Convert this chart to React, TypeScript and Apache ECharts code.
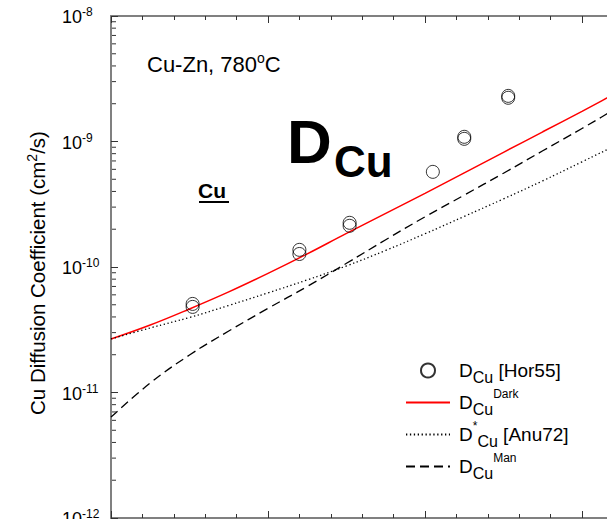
import React, { useEffect, useRef } from "react";
import * as echarts from "echarts";

const FONT = '"Liberation Sans", Arial, Helvetica, sans-serif';

// Zn fraction nodes for model curves
const xNodes = [0, 0.025, 0.05, 0.075, 0.1, 0.125, 0.15, 0.175, 0.2, 0.225, 0.25, 0.275, 0.3, 0.325, 0.35];
// D_Cu^Dark (red)
const dDark = [2.67e-11, 3.45e-11, 4.63e-11, 6.33e-11, 8.89e-11, 1.272e-10, 1.853e-10, 2.675e-10, 3.862e-10, 5.63e-10, 8.2e-10, 1.195e-9, 1.74e-9, 2.56e-9, 3.8e-9];
// D*_Cu [Anu72] (dotted)
const dAnu72 = [2.67e-11, 3.27e-11, 3.96e-11, 4.94e-11, 6.22e-11, 7.89e-11, 1.02e-10, 1.356e-10, 1.84e-10, 2.53e-10, 3.49e-10, 4.86e-10, 6.89e-10, 9.76e-10, 1.38e-9];
// D_Cu^Man (dashed)
const dMan = [6.37e-12, 1.19e-11, 1.99e-11, 3.09e-11, 4.68e-11, 7.0e-11, 1.07e-10, 1.65e-10, 2.51e-10, 3.74e-10, 5.59e-10, 8.43e-10, 1.27e-9, 1.94e-9, 2.97e-9];
// D_Cu [Hor55] measurements
const horX = [0.052, 0.052, 0.12, 0.12, 0.152, 0.152, 0.205, 0.225, 0.225, 0.253, 0.253];
const horD = [5.08e-11, 4.81e-11, 1.37e-10, 1.27e-10, 2.25e-10, 2.13e-10, 5.73e-10, 1.09e-9, 1.05e-9, 2.31e-9, 2.23e-9];

const seriesNames = ["Hor55", "Dark", "Anu72", "Man"];
const legendLabels: Record<string, string> = {
  Hor55: "{d|D}{sub|Cu}{t| [Hor55]}",
  Dark: "{d|D}{sub|Cu}{sup|Dark}",
  Anu72: "{d|D}{sup|*}{sub|Cu}{t| [Anu72]}",
  Man: "{d|D}{sub|Cu}{sup|Man}",
};

// minor log ticks (2..9 x decade)
const minorTickVals: number[] = [];
for (let e = -12; e < -8; e++) {
  for (let m = 2; m <= 9; m++) minorTickVals.push(m * Math.pow(10, e));
}

const axisCommon = {
  axisLine: { show: true, onZero: false, lineStyle: { color: "#808080", width: 2 } },
  axisTick: { show: true, inside: true, length: 7, lineStyle: { color: "#333", width: 1 } },
  splitLine: { show: false },
};

const hiddenMarker = { color: "rgba(0,0,0,0)", opacity: 0, borderWidth: 0 };

export default function App() {
  const ref = useRef<HTMLDivElement>(null);
  useEffect(() => {
    if (!ref.current) return;
    const chart = echarts.init(ref.current, undefined, { renderer: "svg" });
    const xAxisBase = {
      type: "value",
      min: 0,
      max: 0.4,
      interval: 0.1,
      ...axisCommon,
      minorTick: { show: true, splitNumber: 5, length: 4, lineStyle: { color: "#333", width: 1 } },
      axisLabel: { show: false },
    };
    const option: any = {
      animation: false,
      backgroundColor: "#fff",
      grid: { left: 111, top: 16, width: 628, height: 502, outerBoundsMode: "none", containLabel: false },
      xAxis: [
        { ...xAxisBase, position: "bottom" },
        { ...xAxisBase, position: "top" },
      ],
      yAxis: [
        {
          type: "log",
          logBase: 10,
          min: 1e-12,
          max: 1e-8,
          ...axisCommon,
          axisLabel: {
            show: true,
            align: "left",
            margin: 49,
            color: "#000",
            fontFamily: FONT,
            formatter: (v: number) => `{b|10}{s|${Math.round(Math.log10(v))}}`,
            rich: {
              b: { fontSize: 18, lineHeight: 20, verticalAlign: "bottom", fontFamily: FONT, color: "#000" },
              s: { fontSize: 12, lineHeight: 12, verticalAlign: "top", fontFamily: FONT, color: "#000" },
            },
          },
          name: "{n|Cu Diffusion Coefficient (cm}{sup|2}{n|/s)}",
          nameLocation: "middle",
          nameGap: 62,
          nameTextStyle: {
            fontFamily: FONT,
            color: "#000",
            padding: [0, 12, 0, 0],
            rich: {
              n: { fontSize: 20.5, lineHeight: 24, verticalAlign: "middle", fontFamily: FONT, color: "#000" },
              sup: { fontSize: 14, lineHeight: 14, verticalAlign: "top", fontFamily: FONT, color: "#000" },
            },
          },
        },
      ],
      legend: {
        data: seriesNames,
        orient: "vertical",
        left: 400,
        top: 356,
        itemWidth: 44,
        itemHeight: 14,
        itemGap: 2,
        selectedMode: false,
        formatter: (name: string) => legendLabels[name] || name,
        textStyle: {
          color: "#000",
          fontFamily: FONT,
          fontSize: 19,
          rich: {
            d: { fontSize: 19, lineHeight: 30, verticalAlign: "middle", padding: [0, 0, 0, 4], fontFamily: FONT, color: "#000" },
            t: { fontSize: 19, lineHeight: 30, verticalAlign: "middle", fontFamily: FONT, color: "#000" },
            sub: { fontSize: 16, lineHeight: 15, verticalAlign: "bottom", fontFamily: FONT, color: "#000" },
            sup: { fontSize: 12, lineHeight: 18, verticalAlign: "top", fontFamily: FONT, color: "#000" },
          },
        },
      },
      graphic: [
        {
          type: "text",
          x: 147,
          y: 64,
          style: {
            text: "{m|Cu-Zn, 780}{sup|o}{m|C}",
            verticalAlign: "middle",
            fill: "#000",
            font: `22px ${FONT}`,
            rich: {
              m: { fontSize: 22, lineHeight: 26, verticalAlign: "middle", fontFamily: FONT, fill: "#000" },
              sup: { fontSize: 14, lineHeight: 16, verticalAlign: "top", fontFamily: FONT, fill: "#000" },
            },
          },
        },
        {
          type: "text",
          x: 287,
          y: 141.5,
          style: { text: "D", fill: "#000", verticalAlign: "middle", fontSize: 62, fontWeight: "bold", fontFamily: FONT },
        },
        {
          type: "text",
          x: 334,
          y: 161.5,
          style: { text: "Cu", fill: "#000", verticalAlign: "middle", fontSize: 44, fontWeight: "bold", fontFamily: FONT },
        },
        {
          type: "text",
          x: 198,
          y: 190,
          style: { text: "Cu", fill: "#000", verticalAlign: "middle", fontSize: 21, fontWeight: "bold", fontFamily: FONT },
        },
        {
          type: "line",
          shape: { x1: 199, y1: 202, x2: 229, y2: 202 },
          style: { stroke: "#000", lineWidth: 2 },
        },
      ],
      series: [
        {
          name: "Hor55",
          type: "scatter",
          data: horX.map((x, i) => [x, horD[i]]),
          symbol: "circle",
          symbolSize: 13,
          itemStyle: { color: "rgba(0,0,0,0)", borderColor: "#000", borderWidth: 1 },
          z: 4,
        },
        {
          name: "Dark",
          type: "line",
          smooth: 0.4,
          symbol: "none",
          itemStyle: hiddenMarker,
          lineStyle: { color: "#ff0000", width: 1.5 },
          data: xNodes.map((x, i) => [x, dDark[i]]),
          z: 3,
        },
        {
          name: "Anu72",
          type: "line",
          smooth: 0.4,
          symbol: "none",
          itemStyle: hiddenMarker,
          lineStyle: { color: "#000", width: 1.3, type: [1.3, 2.6] },
          data: xNodes.map((x, i) => [x, dAnu72[i]]),
          z: 3,
        },
        {
          name: "Man",
          type: "line",
          smooth: 0.4,
          symbol: "none",
          itemStyle: hiddenMarker,
          lineStyle: { color: "#000", width: 1.3, type: [9, 5] },
          data: xNodes.map((x, i) => [x, dMan[i]]),
          z: 3,
        },
        {
          name: "minorTicks",
          type: "custom",
          silent: true,
          clip: false,
          z: 5,
          data: minorTickVals.map((v) => [0, v]),
          renderItem: (_p: any, api: any) => {
            const p = api.coord([0, api.value(1)]);
            return {
              type: "line",
              shape: { x1: p[0] + 1, y1: p[1], x2: p[0] + 5, y2: p[1] },
              style: { stroke: "#333", lineWidth: 1 },
            };
          },
        },
      ],
    };
    chart.setOption(option);
    return () => chart.dispose();
  }, []);
  return (
    <div style={{ position: "absolute", left: 0, top: 0, width: 607, height: 519, overflow: "hidden", background: "#fff" }}>
      <div ref={ref} style={{ position: "absolute", left: 0, top: 0, width: 760, height: 519 }} />
    </div>
  );
}
